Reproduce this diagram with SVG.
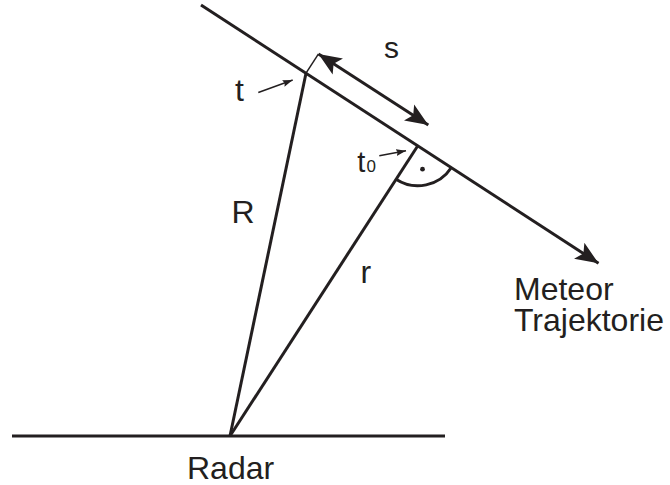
<svg xmlns="http://www.w3.org/2000/svg" width="670" height="485" viewBox="0 0 670 485">
<style>
.ln{stroke:#231f20;stroke-width:3;fill:none}
.thin{stroke:#231f20;stroke-width:1.5;fill:none}
.lbl{font-family:"Liberation Sans",Arial,sans-serif;fill:#231f20;font-size:32px}
</style>
<defs>
<marker id="big" markerUnits="userSpaceOnUse" markerWidth="24" markerHeight="21" viewBox="0 0 24 21" refX="23" refY="10.5" orient="auto-start-reverse">
<path d="M0,1 L23,10.5 L0,20 L5,10.5 z" fill="#231f20"/>
</marker>
<marker id="small" markerUnits="userSpaceOnUse" markerWidth="11" markerHeight="8" viewBox="0 0 11 8" refX="10" refY="4" orient="auto">
<path d="M0,0.5 L10,4 L0,7.5 L1.5,4 z" fill="#231f20"/>
</marker>
</defs>
<rect width="670" height="485" fill="#fff"/>
<g id="connectors">
<line id="ground" class="ln" x1="12" y1="436" x2="445" y2="436"/>
<line id="trajectory" class="ln" x1="201" y1="5" x2="598.5" y2="263.3" marker-end="url(#big)"/>
<line id="R-line" class="ln" x1="230" y1="436" x2="306" y2="73.2"/>
<line id="r-line" class="ln" x1="230" y1="436" x2="417.8" y2="145.7"/>
<line id="tick" class="thin" x1="306" y1="73.2" x2="318.5" y2="53.9"/>
<line id="s-arrow" class="ln" x1="318.5" y1="53.9" x2="428.3" y2="125" stroke-width="3.5" marker-start="url(#big)" marker-end="url(#big)"/>
<path id="right-angle" class="ln" d="M396,179.3 A40,40 0 0 0 451.4,167.5"/>
<circle id="right-dot" cx="422.5" cy="169.2" r="2.4" fill="#231f20"/>
<line id="t-pointer" class="thin" x1="258.3" y1="92.5" x2="292.7" y2="80" marker-end="url(#small)"/>
<line id="t0-pointer" class="thin" x1="379.3" y1="155.7" x2="406" y2="150.7" marker-end="url(#small)"/>
</g>
<g id="label-s"><text class="lbl" x="384" y="58.3" style="font-size:30px">s</text></g>
<g id="label-t"><text class="lbl" x="235" y="100.7">t</text></g>
<g id="label-t0"><text class="lbl" x="357.3" y="172.3" style="font-size:29px">t<tspan x="366.5" style="font-size:17px">0</tspan></text></g>
<g id="label-R"><text class="lbl" x="231.5" y="222.7">R</text></g>
<g id="label-r"><text class="lbl" x="360.5" y="283.3">r</text></g>
<g id="label-meteor"><text class="lbl" x="514" y="299.5">Meteor<tspan x="514" y="331">Trajektorie</tspan></text></g>
<g id="label-radar"><text class="lbl" x="187" y="479.3">Radar</text></g>
</svg>
